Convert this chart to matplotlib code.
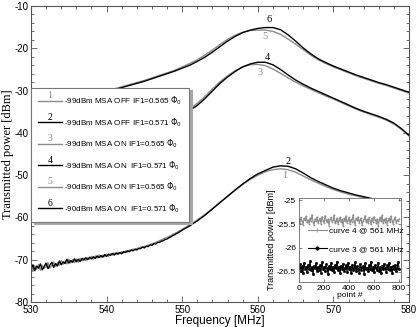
import numpy as np
import matplotlib
matplotlib.use("Agg")
import matplotlib.pyplot as plt
from matplotlib.legend_handler import HandlerLine2D
from matplotlib.text import Text
from matplotlib.ticker import MultipleLocator, FuncFormatter

plt.rcParams['axes.unicode_minus'] = False
plt.rcParams['font.family'] = ['Liberation Sans', 'DejaVu Sans']
plt.rcParams['mathtext.fontset'] = 'dejavusans'

GRAY = '#8c8c8c'

# ---------------- data: curves 1 & 2 (-99 dBm, MSA OFF) ----------------
freq_off = list(np.arange(530.0, 550.0, 0.25)) + list(np.arange(550.0, 575.5, 1.0))
curve1 = [
    -71.6, -72.8, -71.4, -72.2, -71.1, -72.5, -71.3, -72.0, -71.7, -70.7,
    -72.0, -71.4, -70.5, -71.6, -70.7, -71.3, -70.2, -71.1, -70.3, -71.0,
    -69.9, -70.8, -70.0, -70.7, -69.8, -70.6, -69.7, -70.3, -69.6, -70.2,
    -69.5, -69.9, -69.2, -69.9, -69.1, -69.6, -68.9, -69.5, -68.9, -69.3,
    -68.7, -69.2, -68.6, -68.9, -68.4, -68.8, -68.2, -68.6, -68.1, -68.4,
    -67.9, -68.2, -67.7, -67.9, -67.5, -67.7, -67.3, -67.4, -67.0, -67.1,
    -66.8, -66.9, -66.5, -66.5, -66.2, -66.1, -65.9, -65.7, -65.5, -65.3,
    -65.1, -64.9, -64.7, -64.5, -64.3, -64.0, -63.8, -63.6, -63.3, -63.1,
    -62.8, -61.8, -60.6, -59.3, -57.9, -56.4, -55.0, -53.6, -52.2, -51.0,
    -50.0, -49.2, -48.7, -48.5, -48.7, -49.3, -50.2, -51.1, -51.9, -52.7,
    -53.4, -54.0, -54.5, -54.9, -55.3, -55.7]
curve2 = [
    -72.3, -71.2, -72.6, -71.5, -72.0, -71.0, -72.4, -71.6, -70.8, -72.1,
    -71.3, -70.6, -71.8, -70.9, -71.5, -70.3, -71.2, -70.5, -70.9, -69.9,
    -70.8, -70.2, -70.6, -69.8, -70.5, -69.9, -70.4, -69.7, -70.1, -69.5,
    -70.0, -69.4, -69.8, -69.3, -69.7, -69.1, -69.5, -69.0, -69.4, -68.8,
    -69.2, -68.7, -69.0, -68.5, -68.9, -68.4, -68.7, -68.3, -68.6, -68.1,
    -68.3, -67.9, -68.1, -67.7, -67.9, -67.5, -67.7, -67.3, -67.4, -67.0,
    -67.2, -66.8, -66.9, -66.5, -66.6, -66.2, -66.3, -65.9, -65.9, -65.6,
    -65.5, -65.2, -65.1, -64.8, -64.6, -64.3, -64.1, -63.8, -63.6, -63.3,
    -63.0, -62.0, -60.8, -59.5, -58.0, -56.5, -55.0, -53.5, -52.1, -50.8,
    -49.7, -48.9, -48.1, -47.8, -47.9, -48.5, -49.5, -50.6, -51.5, -52.3,
    -53.1, -53.7, -54.2, -54.7, -55.1, -55.5]

# ---------------- data: curves 3-6 (MSA ON) ----------------
freq_on = list(np.arange(530.0, 580.5, 1.0))
curve3 = [
    -46.8, -46.2, -45.6, -45.0, -44.4, -43.8, -43.2, -42.6, -42.0, -41.4,
    -40.8, -40.2, -39.6, -39.0, -38.4, -37.8, -37.3, -36.8, -36.3, -35.8,
    -35.2, -34.3, -33.0, -31.4, -29.6, -27.9, -26.5, -25.3, -24.4, -23.9,
    -23.8, -24.1, -24.9, -25.9, -27.0, -28.0, -28.9, -29.7, -30.5, -31.3,
    -32.0, -32.8, -33.6, -34.4, -35.1, -35.7, -36.3, -37.0, -37.9, -39.2,
    -40.7]
curve4 = [
    -47.0, -46.4, -45.8, -45.2, -44.6, -44.0, -43.4, -42.8, -42.2, -41.6,
    -41.0, -40.4, -39.8, -39.2, -38.6, -38.0, -37.5, -37.0, -36.5, -36.0,
    -35.5, -34.7, -33.5, -31.9, -30.1, -28.3, -26.8, -25.5, -24.4, -23.7,
    -23.3, -23.3, -23.9, -25.0, -26.3, -27.5, -28.5, -29.4, -30.2, -31.0,
    -31.8, -32.6, -33.4, -34.2, -34.9, -35.5, -36.1, -36.8, -37.7, -39.0,
    -40.6]
curve5 = [
    -35.8, -35.2, -34.6, -34.0, -33.4, -32.8, -32.2, -31.7, -31.1, -30.6,
    -30.1, -29.6, -29.1, -28.6, -28.1, -27.6, -27.0, -26.4, -25.8, -25.2,
    -24.4, -23.6, -22.7, -21.6, -20.4, -19.1, -17.9, -16.9, -16.2, -15.8,
    -15.7, -15.7, -16.0, -16.7, -17.8, -19.0, -20.3, -21.6, -22.7, -23.6,
    -24.4, -25.1, -25.8, -26.5, -27.1, -27.7, -28.3, -28.8, -29.4, -30.0,
    -30.6]
curve6 = [
    -36.0, -35.4, -34.8, -34.2, -33.6, -33.0, -32.4, -31.9, -31.3, -30.8,
    -30.3, -29.8, -29.3, -28.8, -28.3, -27.8, -27.2, -26.6, -26.0, -25.4,
    -24.7, -24.0, -23.1, -22.1, -20.9, -19.6, -18.3, -17.2, -16.3, -15.7,
    -15.3, -15.1, -15.1, -15.6, -16.8, -18.3, -19.9, -21.3, -22.5, -23.4,
    -24.2, -24.9, -25.6, -26.3, -26.9, -27.5, -28.1, -28.6, -29.2, -29.8,
    -30.4]

curve_labels = [
    '-99dBm MSA OFF IF1=0.565 $\\Phi_0$',
    '-99dBm MSA OFF IF1=0.571 $\\Phi_0$',
    '-99dBm MSA ON IF1=0.565 $\\Phi_0$',
    '-99dBm MSA ON  IF1=0.571 $\\Phi_0$',
    '-90dBm MSA ON IF1=0.565 $\\Phi_0$',
    '-90dBm MSA ON  IF1=0.571 $\\Phi_0$',
]
curve_numbers = ['1', '2', '3', '4', '5', '6']
# positions of the numbers written next to the peaks (freq, power)
number_pos = [(563.5, -50.0), (564.0, -46.7), (560.3, -25.8),
              (561.3, -22.2), (561.0, -17.3), (561.5, -13.3)]

# ---------------- data: inset (800 points, every 8th shown) ----------------
inset_points = list(np.arange(0, 801, 8))
inset_curve4 = [
    -25.40, -25.47, -25.36, -25.44, -25.51, -25.38, -25.42, -25.33, -25.46, -25.41,
    -25.49, -25.37, -25.43, -25.30, -25.45, -25.52, -25.39, -25.44, -25.35, -25.48,
    -25.42, -25.38, -25.50, -25.34, -25.43, -25.47, -25.32, -25.41, -25.46, -25.39,
    -25.53, -25.40, -25.36, -25.45, -25.42, -25.31, -25.48, -25.43, -25.37, -25.50,
    -25.41, -25.35, -25.46, -25.40, -25.54, -25.38, -25.44, -25.33, -25.47, -25.42,
    -25.36, -25.49, -25.40, -25.45, -25.30, -25.43, -25.51, -25.38, -25.42, -25.35,
    -25.47, -25.41, -25.37, -25.52, -25.44, -25.39, -25.32, -25.46, -25.40, -25.48,
    -25.36, -25.43, -25.50, -25.38, -25.45, -25.34, -25.41, -25.47, -25.39, -25.53,
    -25.42, -25.36, -25.44, -25.31, -25.48, -25.40, -25.45, -25.37, -25.51, -25.42,
    -25.38, -25.46, -25.33, -25.43, -25.49, -25.40, -25.35, -25.47, -25.41, -25.44,
    -25.39]
inset_curve3 = [
    -26.42, -26.35, -26.48, -26.39, -26.53, -26.31, -26.44, -26.40, -26.50, -26.36,
    -26.45, -26.28, -26.47, -26.41, -26.55, -26.38, -26.43, -26.33, -26.49, -26.40,
    -26.46, -26.37, -26.52, -26.30, -26.44, -26.41, -26.48, -26.35, -26.42, -26.56,
    -26.39, -26.45, -26.32, -26.47, -26.40, -26.51, -26.36, -26.43, -26.29, -26.46,
    -26.41, -26.54, -26.38, -26.44, -26.34, -26.49, -26.42, -26.37, -26.50, -26.31,
    -26.45, -26.40, -26.53, -26.36, -26.47, -26.43, -26.30, -26.48, -26.39, -26.44,
    -26.52, -26.35, -26.46, -26.41, -26.38, -26.55, -26.33, -26.45, -26.42, -26.49,
    -26.37, -26.44, -26.29, -26.47, -26.40, -26.51, -26.36, -26.43, -26.46, -26.32,
    -26.48, -26.41, -26.54, -26.38, -26.45, -26.34, -26.42, -26.50, -26.37, -26.44,
    -26.31, -26.47, -26.40, -26.53, -26.39, -26.45, -26.36, -26.48, -26.42, -26.30,
    -26.44]


class NumberedHandler(HandlerLine2D):
    def __init__(self, number, color, **kw):
        super().__init__(**kw)
        self.number = number
        self.ncolor = color

    def create_artists(self, legend, orig_handle, xdescent, ydescent,
                       width, height, fontsize, trans):
        arts = super().create_artists(legend, orig_handle, xdescent, ydescent,
                                      width, height, fontsize, trans)
        ymid = (height - ydescent) / 2.0
        t = Text(width / 2.0 - xdescent, ymid + 0.5, self.number,
                 ha='center', va='bottom', color=self.ncolor,
                 family='Liberation Serif', fontsize=7, transform=trans)
        return list(arts) + [t]


fig = plt.figure(figsize=(4.16, 3.27), dpi=100)
ax = fig.add_axes([31 / 416, 25 / 327, 378 / 416, 296 / 327])

colors = [GRAY, 'black', GRAY, 'black', GRAY, 'black']
series = [(freq_off, curve1), (freq_off, curve2), (freq_on, curve3),
          (freq_on, curve4), (freq_on, curve5), (freq_on, curve6)]
handles = []
for (fx, fy), c in zip(series, colors):
    ln, = ax.plot(fx, fy, color=c, lw=1.0)
    handles.append(ln)

for (px, py), num, c in zip(number_pos, curve_numbers, colors):
    ax.text(px, py, num, color=c, family='Liberation Serif', fontsize=7.5,
            ha='center', va='center')

ax.set_xlim(530, 580)
ax.set_ylim(-80, -10)
ax.xaxis.set_major_locator(MultipleLocator(10))
ax.xaxis.set_minor_locator(MultipleLocator(2))
ax.yaxis.set_major_locator(MultipleLocator(10))
ax.yaxis.set_minor_locator(MultipleLocator(2))
ax.tick_params(which='both', direction='in', top=True, right=True,
               labelsize=7, width=0.6, color='#555555')
ax.tick_params(which='major', length=4, pad=2)
ax.tick_params(axis='x', which='major', pad=2.5)
ax.tick_params(which='minor', length=2)
for s in ax.spines.values():
    s.set_linewidth(0.8)
    s.set_color('#555555')
ax.set_xlabel('Frequency [MHz]', fontsize=8.5, labelpad=0)
ax.xaxis.set_label_coords(0.5, -0.043)
ax.set_ylabel('Transmitted power [dBm]', fontsize=9, family='Liberation Serif',
              labelpad=0)
ax.yaxis.set_label_coords(-0.044, 0.5)

hmap = {h: NumberedHandler(n, c) for h, n, c in zip(handles, curve_numbers, colors)}
leg = ax.legend(handles, curve_labels, handler_map=hmap, loc='upper left',
                bbox_to_anchor=(0.0, 0.724), borderaxespad=0.0, fontsize=5.8,
                handlelength=3.0, handletextpad=0.3, labelspacing=1.12,
                borderpad=0.85, fancybox=False,
                shadow={'color': '#a8a8a8', 'alpha': 1.0}, framealpha=1,
                edgecolor='#777777')
leg.get_frame().set_linewidth(0.8)
leg.set_zorder(5)

# ---------------- inset ----------------
axi = fig.add_axes([299 / 416, (327 - 282) / 327, 102 / 416, 84 / 327])
axi.set_zorder(6)
axi.plot(inset_points, inset_curve4, color=GRAY, lw=0.8, marker='+', ms=2,
         mew=0.5, label='curve 4 @ 561 MHz')
axi.plot(inset_points, inset_curve3, color='black', lw=0.8, marker='o', ms=1.6,
         mew=0.5, label='curve 3 @ 561 MHz')
axi.set_xlim(0, 815)
axi.set_ylim(-26.72, -24.95)
axi.xaxis.set_major_locator(MultipleLocator(200))
axi.yaxis.set_major_locator(MultipleLocator(0.5))
axi.tick_params(direction='in', top=True, right=True, labelsize=6, length=2.5,
                width=0.5, pad=2, color='#555555')
axi.yaxis.set_major_formatter(FuncFormatter(lambda v, p: ('%g' % v)))
for s in axi.spines.values():
    s.set_linewidth(0.6)
    s.set_color('#666666')
axi.set_xlabel('point #', fontsize=6, labelpad=0)
axi.set_ylabel('Transmitted power [dBm]', fontsize=6.5, labelpad=1)
axi.legend(loc='center left', bbox_to_anchor=(0.05, 0.5), frameon=False,
           fontsize=6, handlelength=2.2, handletextpad=0.3, labelspacing=1.3,
           borderpad=0, markerscale=1.5)

fig.savefig('out.png', dpi=100)
